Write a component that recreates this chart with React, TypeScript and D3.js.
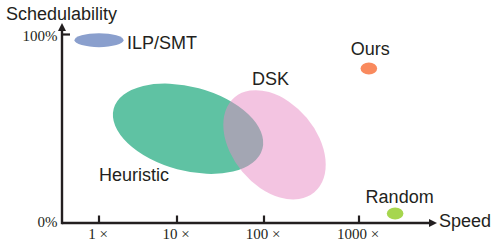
import React from "react";
import * as d3 from "d3";

const width = 496;
const height = 245;

// speed multipliers on the x axis, schedulability (%) on the y axis
const speedTicks = [1, 10, 100, 1000];
const speedTickLabels = ["1 ×", "10 ×", "100 ×", "1000 ×"];
const schedTicks = [0, 100];
const schedTickLabels = ["0%", "100%"];

const methods = ["ILP/SMT", "Heuristic", "DSK", "Ours", "Random"];
const methodSpeed = [1, 13.4, 129, 1270, 2400];
const methodSched = [97, 50, 41.5, 82, 5];

// look of each blob (pixels / degrees), kept apart from the values
const blobStyle: Record<string, { rx: number; ry: number; rot: number; fill: string; opacity: number; dx: number; dy: number }> = {
  "ILP/SMT": { rx: 24.5, ry: 7, rot: 0, fill: "#8a9fcd", opacity: 1, dx: 28, dy: 9 },
  Heuristic: { rx: 77, ry: 42, rot: 15, fill: "#5fc2a3", opacity: 1, dx: -89, dy: 52 },
  DSK: { rx: 62, ry: 42, rot: 50, fill: "#e78ac3", opacity: 0.5, dx: -22.5, dy: -59.5 },
  Ours: { rx: 8.3, ry: 6, rot: 0, fill: "#f98a5e", opacity: 1, dx: -18, dy: -13.5 },
  Random: { rx: 8.3, ry: 6, rot: 0, fill: "#a6d64e", opacity: 1, dx: -29.5, dy: -10.5 },
};

const ink = "#231f20";
const sans = "'Liberation Sans', Arial, sans-serif";
const serif = "'Liberation Serif', 'Times New Roman', serif";

export default function App() {
  // ticks on the original are not evenly spaced, so a piecewise log scale
  const x = d3.scaleLog().domain(speedTicks).range([99, 177, 264, 359]);
  const y = d3.scaleLinear().domain([0, 100]).range([223, 34.5]);

  const x0 = 62;
  const y0 = y(0);
  const xEnd = 437;
  const yTop = 23;

  return (
    <svg width={width} height={height} style={{ position: "absolute", left: 0, top: 0 }}>
      <rect width={width} height={height} fill="#fff" />

      {/* blobs */}
      {methods.map((m, i) => {
        const s = blobStyle[m];
        const cx = x(methodSpeed[i]);
        const cy = y(methodSched[i]);
        return (
          <ellipse
            key={m}
            cx={cx}
            cy={cy}
            rx={s.rx}
            ry={s.ry}
            fill={s.fill}
            fillOpacity={s.opacity}
            transform={`rotate(${s.rot},${cx},${cy})`}
          />
        );
      })}

      {/* labels */}
      {methods.map((m, i) => {
        const s = blobStyle[m];
        return (
          <text
            key={m}
            x={x(methodSpeed[i]) + s.dx}
            y={y(methodSched[i]) + s.dy}
            fontFamily={sans}
            fontSize={18}
            fill={ink}
          >
            {m}
          </text>
        );
      })}

      {/* axes */}
      <line x1={x0} y1={y0} x2={xEnd - 7} y2={y0} stroke={ink} strokeWidth={2.4} />
      <path d={`M${xEnd},${y0} L${xEnd - 8},${y0 - 4} L${xEnd - 8},${y0 + 4} Z`} fill={ink} />
      <line x1={x0} y1={y0 + 1.2} x2={x0} y2={yTop + 7} stroke={ink} strokeWidth={2.4} />
      <path d={`M${x0},${yTop} L${x0 - 4},${yTop + 8} L${x0 + 4},${yTop + 8} Z`} fill={ink} />

      {speedTicks.map((t, i) => (
        <g key={t}>
          <line x1={x(t)} x2={x(t)} y1={y0} y2={y0 - 7.5} stroke={ink} strokeWidth={2.2} />
          <text
            x={x(t) - 1}
            y={239}
            textAnchor="middle"
            fontFamily={serif}
            fontSize={15}
            fill={ink}
            style={{ whiteSpace: "pre" }}
          >
            {speedTickLabels[i]}
          </text>
        </g>
      ))}

      {schedTicks.map((t, i) => (
        <g key={t}>
          {t > 0 && <line x1={x0} x2={x0 + 8} y1={y(t)} y2={y(t)} stroke={ink} strokeWidth={2.2} />}
          <text
            x={57.5}
            y={y(t) + (t > 0 ? 6.5 : 4)}
            textAnchor="end"
            fontFamily={serif}
            fontSize={15}
            fill={ink}
          >
            {schedTickLabels[i]}
          </text>
        </g>
      ))}

      <text x={439} y={227} fontFamily={sans} fontSize={18} fill={ink}>
        Speed
      </text>
      <text x={6} y={20} fontFamily={sans} fontSize={18} fill={ink}>
        Schedulability
      </text>
    </svg>
  );
}
